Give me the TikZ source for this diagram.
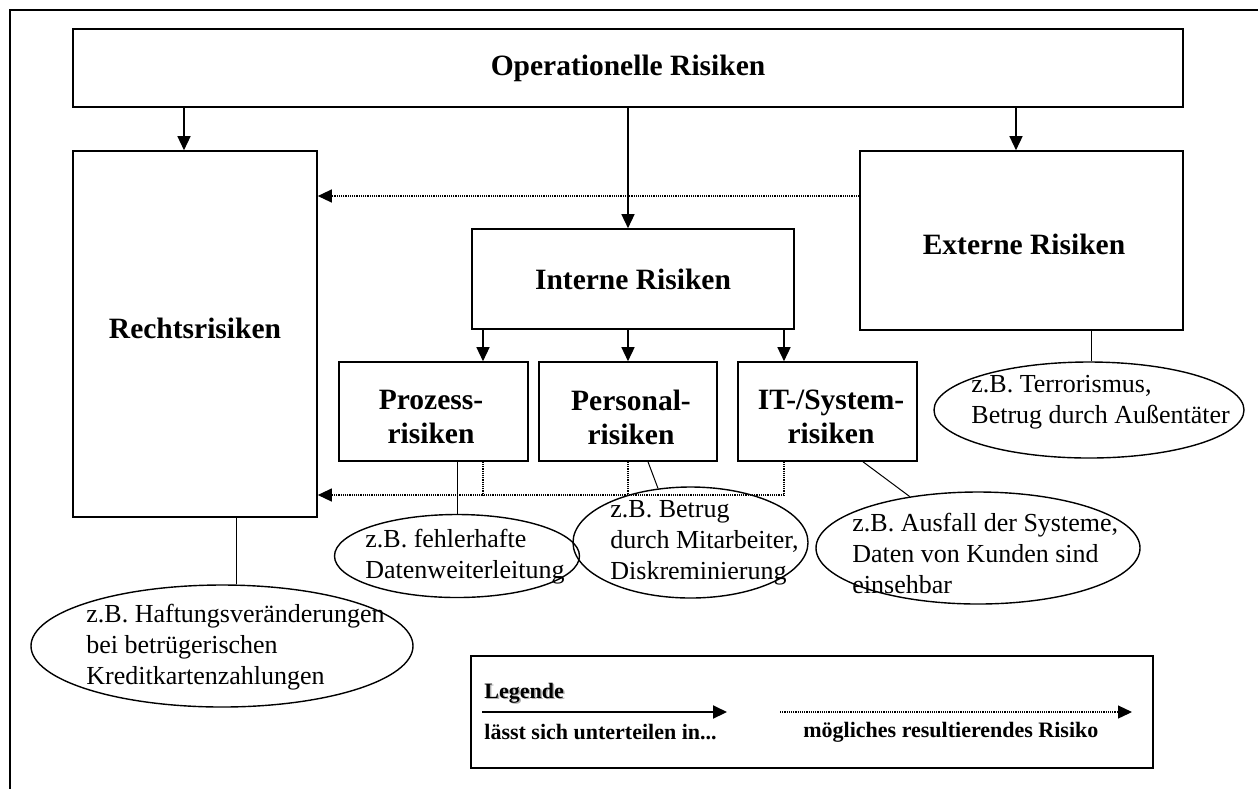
\documentclass[tikz,border=0pt]{standalone}
\usepackage{fontspec}
\setmainfont{Liberation Serif}
\usetikzlibrary{arrows.meta,shapes.geometric}
\begin{document}
\begin{tikzpicture}[x=0.5pt,y=-0.5pt,
  box/.style={draw, line width=0.8pt, rectangle, inner sep=0pt, align=center,
    font=\fontsize{14.75}{16.3}\selectfont\bfseries},
  subbox/.style={box, font=\fontsize{14.75}{17}\selectfont\bfseries},
  ell/.style={draw, ellipse, line width=0.7pt, inner sep=0pt},
  etext/.style={inner sep=0pt, align=left, anchor=west,
    font=\fontsize{13}{15.5}\selectfont},
  ltext/.style={inner sep=0pt, anchor=west, font=\fontsize{11}{13}\selectfont\bfseries},
  tip/.style={-{Triangle[length=7pt,width=6.5pt]}},
  arr/.style={line width=0.7pt, tip},
  link/.style={line width=0.5pt},
  dotline/.style={line width=0.6pt, dash pattern=on 0.6pt off 0.5pt},
  dotarr/.style={dotline, tip}]
\useasboundingbox (0,0) rectangle (1258,789);

% frame (top and left edge only)
\draw[line width=0.75pt] (1258,10) -- (10,10) -- (10,789);

% boxes
\node[box, minimum width=555pt, minimum height=39pt] (op) at (628,68) {Operationelle Risiken};
\node[box, minimum width=122pt, minimum height=183pt] (recht) at (195,334) {};
\node[box, draw=none] (rechtt) at (195,328) {Rechtsrisiken};
\node[box, minimum width=161.5pt, minimum height=89.5pt] (ext) at (1021.5,240.5) {};
\node[box, draw=none] (extt) at (1024,244) {Externe Risiken};
\node[box, minimum width=161pt, minimum height=50pt] (int) at (633,279) {Interne Risiken};
\node[subbox, minimum width=94.5pt, minimum height=49.5pt] (proz) at (433.5,411.5) {};
\node[subbox, minimum width=89pt, minimum height=49.5pt] (pers) at (628,411.5) {};
\node[subbox, minimum width=89.5pt, minimum height=49.5pt] (it) at (827.5,411.5) {};
\node[subbox, draw=none] (prozt) at (431,417) {Prozess-\\risiken};
\node[subbox, draw=none] (perst) at (631,417) {Personal-\\risiken};
\node[subbox, draw=none] (itt) at (831,417) {IT-/System-\\risiken};

% x positions of the connectors
\coordinate (xr) at (184,0);
\coordinate (xi) at (628,0);
\coordinate (xe) at (1016,0);
\coordinate (x1) at (483,0);
\coordinate (x2) at (628,0);
\coordinate (x3) at (784,0);
\coordinate (yd) at (0,196);
\coordinate (yb) at (0,495);
\coordinate (xh) at (236,0);
\coordinate (xp) at (457,0);
\coordinate (xq) at (648,0);
\coordinate (xs) at (863,0);
\coordinate (xt) at (1091,0);

% "lässt sich unterteilen in" arrows
\draw[arr] (op.south -| xr) -- (recht.north -| xr);
\draw[arr] (op.south -| xi) -- (int.north -| xi);
\draw[arr] (op.south -| xe) -- (ext.north -| xe);
\draw[arr] (int.south -| x1) -- (proz.north -| x1);
\draw[arr] (int.south -| x2) -- (pers.north -| x2);
\draw[arr] (int.south -| x3) -- (it.north -| x3);

% "mögliches resultierendes Risiko" arrows
\draw[dotarr] (ext.west |- yd) -- (recht.east |- yd);
\coordinate (b3) at (x3 |- yb);
\draw[dotline] (it.south -| x3) -- (b3);
\draw[dotline] (proz.south -| x1) -- (x1 |- yb);
\draw[dotline] (pers.south -| x2) -- (x2 |- yb);
\draw[dotarr] (b3) -- (recht.east |- yb);

% example ellipses
\node[ell, minimum width=191pt, minimum height=61pt] (haft) at (222,646) {};
\node[etext] at (86,647) {z.B. Haftungsveränderungen\\bei betrügerischen\\Kreditkartenzahlungen};
\node[ell, minimum width=122.5pt, minimum height=41.5pt] (pe) at (457,556) {};
\node[etext] at (365,556.5) {z.B. fehlerhafte\\Datenweiterleitung};
\node[ell, minimum width=117.5pt, minimum height=55.5pt] (pm) at (690.5,542.5) {};
\node[etext] at (610,543) {z.B. Betrug\\durch Mitarbeiter,\\Diskreminierung};
\node[ell, minimum width=162pt, minimum height=56pt] (au) at (978,548) {};
\node[etext] at (852,553) {z.B. Ausfall der Systeme,\\Daten von Kunden sind\\einsehbar};
\node[ell, minimum width=155pt, minimum height=48pt] (te) at (1089,410) {};
\node[etext] at (971,402) {z.B. Terrorismus,\\Betrug durch Außentäter};

% links to the examples
\draw[link] (recht.south -| xh) -- (haft.north -| xh);
\draw[link] (proz.south -| xp) -- (pe.north);
\draw[link] (pers.south -| xq) -- (pm.121);
\draw[link] (it.south -| xs) -- (au.143);
\draw[link] (ext.south -| xt) -- (te.north -| xt);

% legend
\node[draw, line width=0.8pt, inner sep=0pt, minimum width=341pt, minimum height=56pt] (leg) at (812,712) {};
\node[ltext, text=gray!60] at (485.5,694.5) {Legende};
\node[ltext] (legt) at (484,693) {Legende};
\coordinate (l1) at (482,712);
\coordinate (l2) at (727,712);
\coordinate (l3) at (780,712);
\coordinate (l4) at (1132,712);
\draw[line width=1pt, tip] (l1) -- (l2);
\draw[dotarr] (l3) -- (l4);
\node[ltext] (lta) at (484,732) {lässt sich unterteilen in...};
\node[ltext] (ltb) at (803,732) {mögliches resultierendes Risiko};
\end{tikzpicture}
\end{document}
